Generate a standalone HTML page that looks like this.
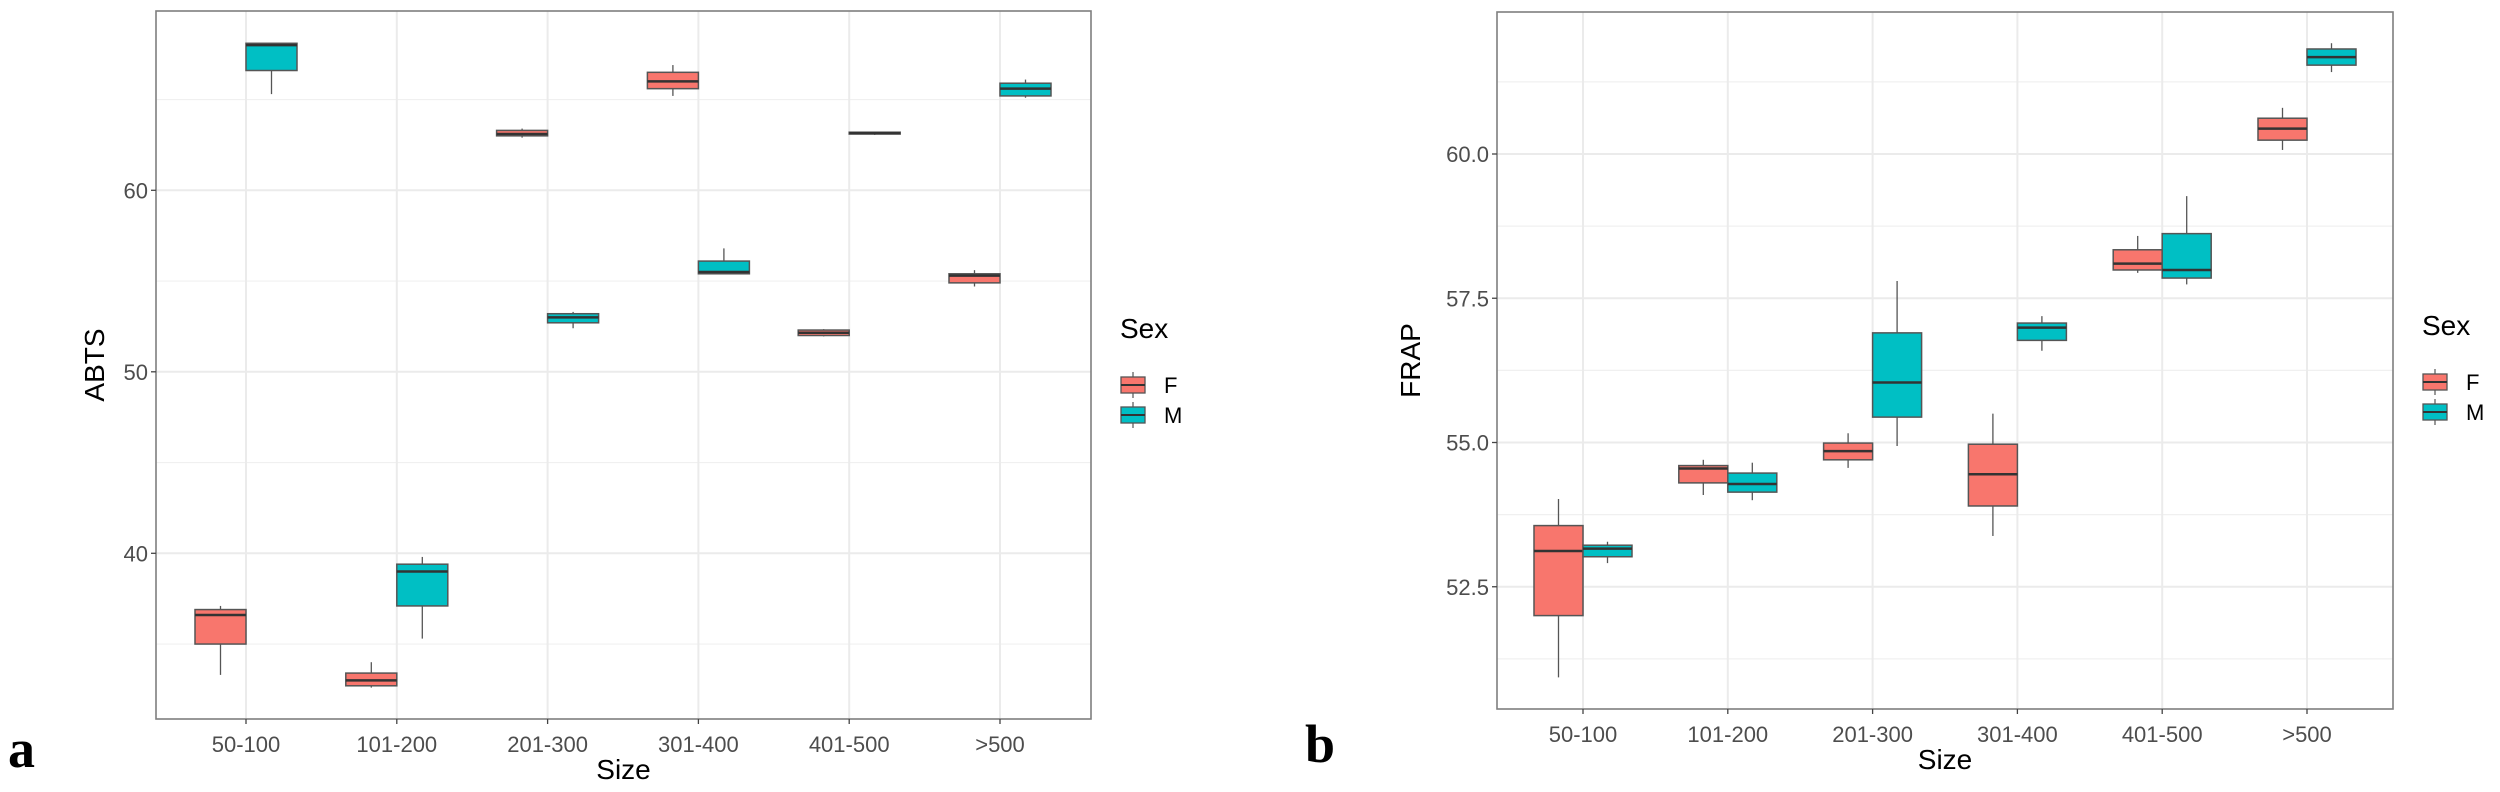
<!DOCTYPE html>
<html><head><meta charset="utf-8"><style>
body{margin:0;background:#fff;}
svg{display:block;font-family:"Liberation Sans",sans-serif;}
</style></head><body>
<svg id="fig" width="2500" height="792" viewBox="0 0 2500 792" xmlns="http://www.w3.org/2000/svg"></svg>
<script>
const categories = ["50-100","101-200","201-300","301-400","401-500",">500"];
// ABTS panel: [lowWhisker, q1, median, q3, highWhisker]
const abtsF = [[33.3,35.0,36.6,36.9,37.1],[32.6,32.7,33.0,33.4,34.0],[62.9,63.0,63.1,63.3,63.4],[65.2,65.6,66.0,66.5,66.9],[51.95,52.0,52.15,52.3,52.35],[54.7,54.9,55.3,55.4,55.6]];
const abtsM = [[65.3,66.6,68.0,68.1,68.1],[35.3,37.1,39.0,39.4,39.8],[52.4,52.7,53.0,53.2,53.3],[55.4,55.4,55.5,56.1,56.8],[63.05,63.1,63.15,63.2,63.2],[65.1,65.2,65.6,65.9,66.1]];
const abtsTicks = [40,50,60];
const abtsMinor = [35,45,55,65];
// FRAP panel
const frapF = [[50.93,52.0,53.12,53.56,54.02],[54.09,54.3,54.55,54.6,54.7],[54.56,54.7,54.85,54.99,55.16],[53.38,53.9,54.45,54.97,55.5],[57.94,57.99,58.1,58.34,58.58],[60.07,60.24,60.44,60.62,60.8]];
const frapM = [[52.91,53.02,53.16,53.22,53.28],[54.0,54.14,54.28,54.47,54.65],[54.94,55.44,56.04,56.9,57.8],[56.59,56.77,56.99,57.07,57.19],[57.74,57.85,57.99,58.62,59.27],[61.42,61.54,61.68,61.82,61.92]];
const frapTicks = [52.5,55.0,57.5,60.0];
const frapMinor = [51.25,53.75,56.25,58.75,61.25];

const NS="http://www.w3.org/2000/svg";
const svg=document.getElementById('fig');
function mk(tag,attrs,parent){const e=document.createElementNS(NS,tag);for(const k in attrs)e.setAttribute(k,attrs[k]);(parent||svg).appendChild(e);return e;}
const FCOL="#F8766D", MCOL="#00BFC4";

function panel(p){
  const g=mk('g',{});
  
  
  const yS=v=>p.y0px+(p.y0v-v)*p.pxPerUnit;
  const xS=i=>p.x0+i*p.dx;
  p.minor.forEach(v=>{const l=mk('line',{x1:p.L,x2:p.R,y1:yS(v),y2:yS(v),stroke:'#f0f0f0','stroke-width':1.2},g);
    
    });
  p.ticks.forEach(v=>{const l=mk('line',{x1:p.L,x2:p.R,y1:yS(v),y2:yS(v),stroke:'#ebebeb','stroke-width':2},g);
    
    });
  categories.forEach((c,i)=>{const l=mk('line',{x1:xS(i),x2:xS(i),y1:p.T,y2:p.B,stroke:'#ebebeb','stroke-width':2},g);
    
    });
  [[p.F,FCOL,-1,'F'],[p.M,MCOL,1,'M']].forEach(([ser,col,side,lab])=>{
    ser.forEach((d,i)=>{
      const cx=xS(i)+side*p.bw/2;
      const bg=mk('g',{},g);
      
      
      mk('line',{x1:cx,x2:cx,y1:yS(d[0]),y2:yS(d[4]),stroke:'#555','stroke-width':1.3},bg);
      mk('rect',{x:cx-p.bw/2,y:yS(d[3]),width:p.bw,height:Math.max(1,yS(d[1])-yS(d[3])),fill:col,stroke:'#555','stroke-width':1.5},bg);
      mk('line',{x1:cx-p.bw/2,x2:cx+p.bw/2,y1:yS(d[2]),y2:yS(d[2]),stroke:'#333','stroke-width':2.5},bg);
    });
  });
  const b=mk('rect',{x:p.L,y:p.T,width:p.R-p.L,height:p.B-p.T,fill:'none',stroke:'#7f7f7f','stroke-width':1.6},g);
  
  
  p.ticks.forEach(v=>{
    mk('line',{x1:p.L-5,x2:p.L,y1:yS(v),y2:yS(v),stroke:'#444','stroke-width':1.3},g);
    const t=mk('text',{x:p.L-8,y:yS(v)+8,'text-anchor':'end','font-size':22,fill:'#4d4d4d'},g);
    t.textContent=p.fmt(v);
    
    
  });
  categories.forEach((c,i)=>{
    mk('line',{x1:xS(i),x2:xS(i),y1:p.B,y2:p.B+5,stroke:'#444','stroke-width':1.3},g);
    const t=mk('text',{x:xS(i),y:p.B+33,'text-anchor':'middle','font-size':22,fill:'#4d4d4d'},g);
    t.textContent=c;
    
    
  });
  const xt=mk('text',{x:(p.L+p.R)/2,y:p.B+60,'text-anchor':'middle','font-size':28,fill:'#000'},g);
  xt.textContent='Size';
  
  
  const yt=mk('text',{x:0,y:0,'text-anchor':'middle','font-size':28,fill:'#000',transform:`translate(${p.ytx},${(p.T+p.B)/2}) rotate(-90)`},g);
  yt.textContent=p.ytitle;
  
  
  const lg=mk('g',{},g);
  
  
  const st=mk('text',{x:p.lx,y:p.ly,'font-size':28,fill:'#000'},lg);st.textContent='Sex';
  [['F',FCOL,p.ly+47],['M',MCOL,p.ly+77]].forEach(([n,col,cy])=>{
    const e=mk('g',{},lg);
    
    
    mk('line',{x1:p.lx+13,x2:p.lx+13,y1:cy-13,y2:cy+13,stroke:'#555','stroke-width':1.2},e);
    mk('rect',{x:p.lx+1,y:cy-8,width:24,height:16,fill:col,stroke:'#555','stroke-width':1.3},e);
    mk('line',{x1:p.lx+1,x2:p.lx+25,y1:cy,y2:cy,stroke:'#333','stroke-width':2},e);
    const t=mk('text',{x:p.lx+44,y:cy+8,'font-size':22,fill:'#000'},e);t.textContent=n;
  });
  const pl=mk('text',{x:p.labx,y:p.laby,'font-size':54,'font-weight':'bold','font-family':'Liberation Serif, serif',fill:'#000'},g);
  pl.textContent=p.lab;
  
  
}

panel({name:'abts-panel',L:156,R:1091,T:11,B:719,x0:246,dx:150.8,bw:51,y0v:60,y0px:190.3,pxPerUnit:18.15,
  F:abtsF,M:abtsM,ticks:abtsTicks,minor:abtsMinor,fmt:v=>String(v),ytitle:'ABTS',ytx:104,
  lx:1120,ly:338,lab:'a',labx:8,laby:767});
panel({name:'frap-panel',L:1497,R:2393,T:12,B:709,x0:1583,dx:144.8,bw:49,y0v:60,y0px:154,pxPerUnit:57.7,
  F:frapF,M:frapM,ticks:frapTicks,minor:frapMinor,fmt:v=>v.toFixed(1),ytitle:'FRAP',ytx:1420,
  lx:2422,ly:335,lab:'b',labx:1305,laby:762});
</script>
</body></html>
